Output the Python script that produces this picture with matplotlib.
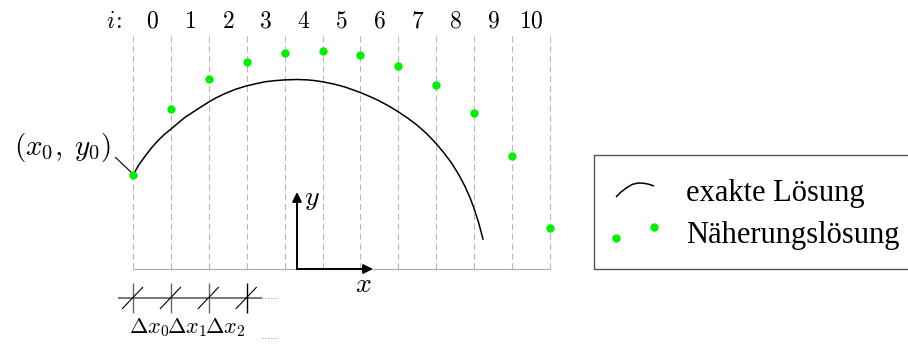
import matplotlib.pyplot as plt
import numpy as np
from matplotlib import rcParams

rcParams['mathtext.fontset'] = 'cm'
rcParams['lines.scale_dashes'] = False
rcParams['lines.solid_capstyle'] = 'butt'
rcParams['lines.solid_joinstyle'] = 'round'

# grid steps i and their labels
steps = np.arange(12)
step_labels = [str(i) for i in range(11)]

# approximation, one point per grid line
approx_y = [2.48, 4.22, 5.01, 5.46, 5.70, 5.75, 5.65, 5.36, 4.85, 4.12, 2.98, 1.08]

# exact solution, sampled along the arc
exact_x = [0.0, 0.15, 0.32, 0.5, 0.67, 0.85, 1.0, 1.2, 1.37, 1.6, 1.8, 1.99,
           2.2, 2.43, 2.7, 2.99, 3.25, 3.48, 3.75, 4.0, 4.33, 4.6, 4.8, 5.0,
           5.3, 5.6, 5.99, 6.25, 6.47, 6.75, 6.98, 7.25, 7.49, 7.75, 7.99,
           8.2, 8.41, 8.6, 8.76, 8.9, 8.99, 9.12, 9.24]
exact_y = [2.48, 2.74, 2.98, 3.21, 3.40, 3.57, 3.69, 3.86, 4.00, 4.15, 4.28, 4.40,
           4.52, 4.63, 4.74, 4.83, 4.89, 4.94, 4.97, 4.99, 5.00, 4.99, 4.97, 4.94,
           4.88, 4.80, 4.66, 4.55, 4.45, 4.30, 4.16, 3.98, 3.80, 3.57, 3.32,
           3.07, 2.79, 2.48, 2.18, 1.86, 1.62, 1.22, 0.77]

dx_labels = [r'$\Delta x_0$', r'$\Delta x_1$', r'$\Delta x_2$']
legend_labels = ['exakte Lösung', 'Näherungslösung']

GREEN = '#00f000'
STEP = 37.9          # pixels per grid step
X0, Y0 = 133, 269    # pixel position of grid origin


def at(px, py):
    # pixel layout position -> grid units
    return (px - X0) / STEP, (Y0 - py) / STEP


fig = plt.figure(figsize=(9.08, 3.47), dpi=100)
ax = fig.add_axes([0, 0, 1, 1])
ax.set_xlim(at(0, 0)[0], at(908, 0)[0])
ax.set_ylim(at(0, 347)[1], at(0, 0)[1])
ax.axis('off')

# dashed grid lines and base line
top = at(0, 35)[1]
for s in steps:
    ax.plot([s, s], [0, top], color='#b8b8b8', lw=0.8, ls=(0, (4.5, 2.6)), zorder=1)
ax.plot([steps[0], steps[-1]], [0, 0], color='#b0b0b0', lw=0.9, zorder=1)

# step numbers
ax.text(*at(115, 28), '$i$', fontsize=17, ha='right', va='baseline')
ax.text(*at(116, 28), ':', family='cmr10', fontsize=17, ha='left', va='baseline')
for i, lab in enumerate(step_labels):
    ax.text(i + 0.5, at(0, 28)[1], '$' + lab + '$', fontsize=17,
            ha='center', va='baseline')

# exact solution and approximation
ax.plot(exact_x, exact_y, color='black', lw=1.1, zorder=3)
ax.plot(steps, approx_y, 'o', color=GREEN, ms=6, mec='none', zorder=4)

# start point label
ax.text(*at(63, 148), r'$(x_0,\;y_0)$', fontsize=21, ha='center', va='center')
p1, p2 = at(115, 157), at(133, 174)
ax.plot([p1[0], p2[0]], [p1[1], p2[1]], color='black', lw=0.8, zorder=3)

# coordinate arrows
origin = at(297, 269)
arrow = dict(arrowstyle='-|>', lw=1.4, color='black', mutation_scale=14,
             shrinkA=0, shrinkB=0)
ax.annotate('', xy=at(297, 192), xytext=origin, arrowprops=arrow, zorder=5)
ax.annotate('', xy=at(373, 269), xytext=origin, arrowprops=arrow, zorder=5)
ax.text(*at(312, 198), '$y$', fontsize=20, ha='center', va='center')
ax.text(*at(363, 284), '$x$', fontsize=20, ha='center', va='center')

# step width ruler
ry = at(0, 298)[1]
ax.plot([at(118, 0)[0], at(262, 0)[0]], [ry, ry], color='#777777', lw=1.4)
ax.plot([at(262, 0)[0], at(277, 0)[0]], [ry, ry], color='#aaaaaa', lw=0.7, ls=(0, (1, 1)))
t0, t1 = at(0, 283)[1], at(0, 313)[1]
for i in range(4):
    ax.plot([i, i], [t0, t1], color='black' if i == 3 else '#666666', lw=1.0)
    a, b = at(X0 - 11, 309), at(X0 + 10, 287)
    ax.plot([i + a[0], i + b[0]], [a[1], b[1]], color='black', lw=0.8)
for i, lab in enumerate(dx_labels):
    ax.text(i + 0.42, at(0, 333)[1], lab, fontsize=16, ha='center', va='baseline')
dy = at(0, 338)[1]
ax.plot([at(262, 0)[0], at(277, 0)[0]], [dy, dy], color='#aaaaaa', lw=0.7, ls=(0, (1, 1)))

# legend box
bl, bt, bb, br = at(594, 155)[0], at(594, 155)[1], at(594, 269)[1], at(912, 0)[0]
ax.plot([br, bl, bl, br], [bt, bt, bb, bb], color='#555555', lw=1.0, clip_on=False)
arc = [at(616, 197), at(621, 192), at(627, 187.5), at(632, 184.5), at(638, 183),
       at(644, 183.3), at(649, 184.3), at(654, 186)]
ax.plot([p[0] for p in arc], [p[1] for p in arc], color='black', lw=1.1)
d1, d2 = at(616, 238), at(654, 227)
ax.plot([d1[0], d2[0]], [d1[1], d2[1]], 'o', color=GREEN, ms=6, mec='none')
ax.text(*at(686, 201), legend_labels[0], family='Liberation Serif', fontsize=22,
        ha='left', va='baseline')
ax.text(*at(686, 243), legend_labels[1], family='Liberation Serif', fontsize=22,
        ha='left', va='baseline')

fig.savefig('out.png', dpi=100)
